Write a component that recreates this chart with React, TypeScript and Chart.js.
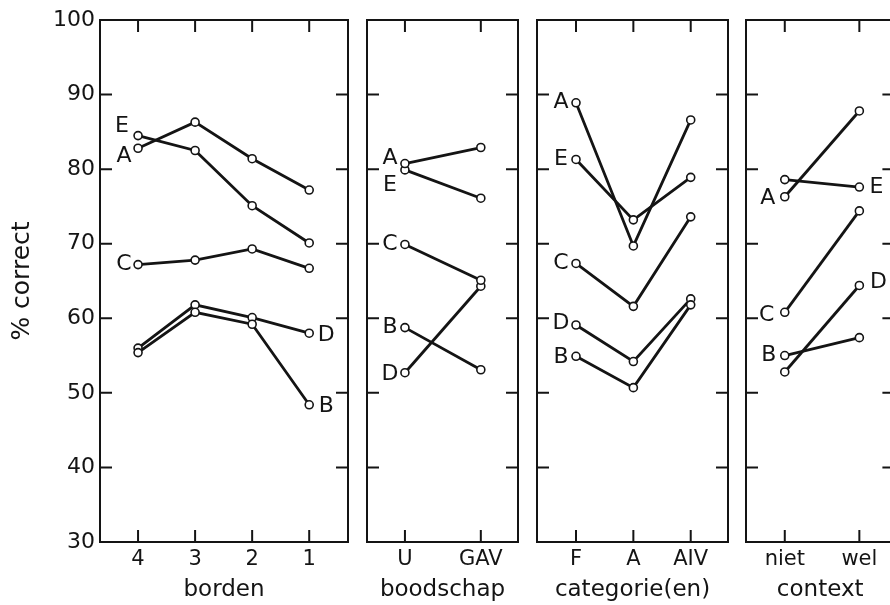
import React, { useEffect, useRef } from 'react';
import { Chart, registerables } from 'chart.js';

Chart.register(...registerables);

// ---------- data ----------
const seriesNames = ['A', 'B', 'C', 'D', 'E'];
const yMin = 30;
const yMax = 100;
const yStep = 10;
const yTitle = '% correct';

const bordenCats = ['4', '3', '2', '1'];
const bordenA = [82.8, 86.3, 81.4, 77.2];
const bordenB = [55.4, 60.8, 59.2, 48.4];
const bordenC = [67.2, 67.8, 69.3, 66.7];
const bordenD = [56.0, 61.8, 60.1, 58.0];
const bordenE = [84.5, 82.5, 75.1, 70.1];

const boodschapCats = ['U', 'GAV'];
const boodschapA = [80.75, 82.9];
const boodschapB = [58.75, 53.1];
const boodschapC = [69.9, 65.1];
const boodschapD = [52.7, 64.3];
const boodschapE = [79.9, 76.1];

const categorieCats = ['F', 'A', 'AIV'];
const categorieA = [88.9, 69.7, 86.6];
const categorieB = [54.9, 50.7, 61.8];
const categorieC = [67.35, 61.6, 73.6];
const categorieD = [59.1, 54.2, 62.6];
const categorieE = [81.3, 73.2, 78.9];

const contextCats = ['niet', 'wel'];
const contextA = [76.3, 87.8];
const contextB = [55.0, 57.4];
const contextC = [60.8, 74.4];
const contextD = [52.8, 64.4];
const contextE = [78.6, 77.6];

// ---------- layout / style ----------
const W = 900;
const H = 605;
const INK = '#141414';
const FONT = "'DejaVu Sans', sans-serif";

type Spot = { at: 'start' | 'end'; dx: number; dy: number };

const panels = [
  {
    title: 'borden', cats: bordenCats,
    series: [bordenA, bordenB, bordenC, bordenD, bordenE],
    spots: [
      { at: 'start', dx: -14, dy: 8 }, { at: 'end', dx: 17, dy: 1 },
      { at: 'start', dx: -14, dy: 0 }, { at: 'end', dx: 17, dy: 2 },
      { at: 'start', dx: -16, dy: -9 },
    ] as Spot[],
    left: 100, right: 348, xMin: -0.667, xMax: 3.68, showY: true,
  },
  {
    title: 'boodschap', cats: boodschapCats,
    series: [boodschapA, boodschapB, boodschapC, boodschapD, boodschapE],
    spots: [
      { at: 'start', dx: -15, dy: -5 }, { at: 'start', dx: -15, dy: 0 },
      { at: 'start', dx: -15, dy: 0 }, { at: 'start', dx: -15, dy: 2 },
      { at: 'start', dx: -15, dy: 15 },
    ] as Spot[],
    left: 367, right: 518, xMin: -0.5, xMax: 1.49, showY: false,
  },
  {
    title: 'categorie(en)', cats: categorieCats,
    series: [categorieA, categorieB, categorieC, categorieD, categorieE],
    spots: [
      { at: 'start', dx: -15, dy: 0 }, { at: 'start', dx: -15, dy: 1 },
      { at: 'start', dx: -15, dy: 0 }, { at: 'start', dx: -15, dy: -2 },
      { at: 'start', dx: -15, dy: 0 },
    ] as Spot[],
    left: 537, right: 728, xMin: -0.68, xMax: 2.65, showY: false,
  },
  {
    title: 'context', cats: contextCats,
    series: [contextA, contextB, contextC, contextD, contextE],
    spots: [
      { at: 'start', dx: -17, dy: 2 }, { at: 'start', dx: -16, dy: 0 },
      { at: 'start', dx: -18, dy: 3 }, { at: 'end', dx: 19, dy: -3 },
      { at: 'end', dx: 17, dy: 0 },
    ] as Spot[],
    left: 746, right: 898, xMin: -0.52, xMax: 1.47, showY: false,
  },
];

const TICK_LEN = 12;

const framePlugin = {
  id: 'frameTicks',
  beforeDatasetsDraw(chart: any) {
    const { ctx, chartArea: a, scales } = chart;
    ctx.save();
    ctx.strokeStyle = INK;
    ctx.lineWidth = 2;
    ctx.strokeRect(a.left, a.top, a.right - a.left, a.bottom - a.top);
    ctx.beginPath();
    for (const t of scales.y.ticks) {
      const y = scales.y.getPixelForValue(t.value);
      ctx.moveTo(a.left, y); ctx.lineTo(a.left + TICK_LEN, y);
      ctx.moveTo(a.right, y); ctx.lineTo(a.right - TICK_LEN, y);
    }
    for (const t of scales.x.ticks) {
      const x = scales.x.getPixelForValue(t.value);
      ctx.moveTo(x, a.top); ctx.lineTo(x, a.top + TICK_LEN);
      ctx.moveTo(x, a.bottom); ctx.lineTo(x, a.bottom - TICK_LEN);
    }
    ctx.stroke();
    ctx.restore();
  },
};

const letterPlugin = {
  id: 'seriesLetters',
  afterDatasetsDraw(chart: any) {
    const { ctx } = chart;
    ctx.save();
    ctx.fillStyle = INK;
    ctx.font = `22px ${FONT}`;
    ctx.textAlign = 'center';
    ctx.textBaseline = 'middle';
    chart.data.datasets.forEach((ds: any, i: number) => {
      const meta = chart.getDatasetMeta(i);
      const spot: Spot = ds.spot;
      const pt = spot.at === 'start' ? meta.data[0] : meta.data[meta.data.length - 1];
      if (!pt) return;
      ctx.fillText(ds.label, pt.x + spot.dx, pt.y + spot.dy);
    });
    ctx.restore();
  },
};

function Panel({ p }: { p: (typeof panels)[number] }) {
  const ref = useRef<HTMLCanvasElement | null>(null);
  useEffect(() => {
    if (!ref.current) return;
    const chart = new Chart(ref.current, {
      type: 'line',
      data: {
        datasets: p.series.map((vals, i) => ({
          label: seriesNames[i],
          spot: p.spots[i],
          data: vals.map((v, k) => ({ x: k, y: v })),
          borderColor: INK,
          borderWidth: 2.8,
          pointRadius: 4,
          pointBorderWidth: 1.6,
          pointBorderColor: INK,
          pointBackgroundColor: '#ffffff',
          tension: 0,
        })) as any,
      },
      options: {
        responsive: false,
        animation: false,
        events: [],
        layout: { padding: { left: p.showY ? p.left - 100 : p.left, right: W - p.right, top: 20, bottom: 0 } },
        plugins: { legend: { display: false }, tooltip: { enabled: false }, title: { display: false } },
        scales: {
          x: {
            type: 'linear',
            min: p.xMin,
            max: p.xMax,
            grid: { display: false, drawTicks: false },
            border: { display: false },
            afterBuildTicks: (s: any) => { s.ticks = p.cats.map((_, i) => ({ value: i })); },
            afterFit: (s: any) => { s.height = 63; },
            ticks: {
              autoSkip: false,
              maxRotation: 0,
              padding: 5,
              color: INK,
              font: { family: FONT, size: 21 },
              callback: (v: any) => p.cats[Math.round(Number(v))] ?? '',
            },
            title: {
              display: true,
              text: p.title,
              color: INK,
              font: { family: FONT, size: 23 },
              padding: { top: 0, bottom: 1 },
            },
          },
          y: {
            type: 'linear',
            min: yMin,
            max: yMax,
            grid: { display: false, drawTicks: false },
            border: { display: false },
            afterFit: (s: any) => { s.width = p.showY ? 100 : 0; },
            ticks: {
              display: p.showY,
              stepSize: yStep,
              padding: 5,
              color: INK,
              font: { family: FONT, size: 22 },
            },
            title: {
              display: p.showY,
              text: yTitle,
              color: INK,
              font: { family: FONT, size: 25 },
              padding: { top: 7, bottom: 0 },
            },
          },
        },
      } as any,
      plugins: [framePlugin, letterPlugin],
    });
    return () => chart.destroy();
  }, [p]);
  return (
    <canvas
      ref={ref}
      width={W}
      height={H}
      style={{ position: 'absolute', left: 0, top: 0, width: W, height: H }}
    />
  );
}

export default function App() {
  return (
    <div
      style={{
        position: 'fixed', left: 0, top: 0, width: '100vw', height: '100vh',
        overflow: 'hidden', background: '#ffffff',
      }}
    >
      {panels.map((p) => (
        <Panel key={p.title} p={p} />
      ))}
    </div>
  );
}
